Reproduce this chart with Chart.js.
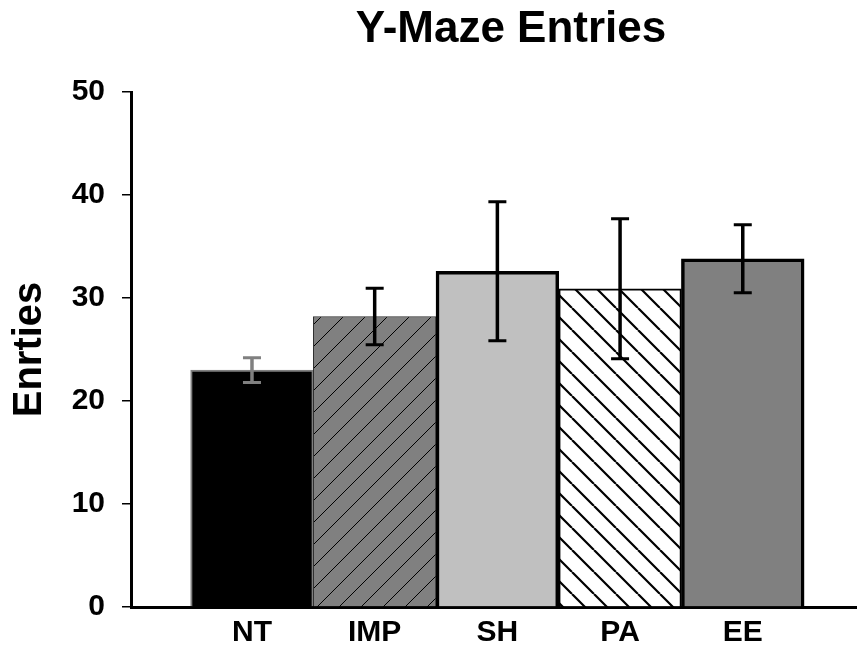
<!DOCTYPE html>
<html>
<head>
<meta charset="utf-8">
<script src="https://cdn.jsdelivr.net/npm/chart.js@4"></script>
<style>
  body { margin: 0; background: #fff; }
  #wrap { position: relative; width: 857px; height: 655px; }
  #title {
    position: absolute; left: 311px; top: 5px; width: 400px;
    text-align: center; font: bold 44px "Liberation Sans", Arial, sans-serif;
    line-height: 44px; color: #000;
  }
</style>
</head>
<body>
<div id="wrap">
  <canvas id="chart" width="857" height="655"></canvas>
  <div id="title">Y-Maze Entries</div>
</div>
<script>
// data
var categories = ["NT", "IMP", "SH", "PA", "EE"];
var entries = [23.0, 28.2, 32.6, 30.9, 33.8];
var errors = [1.2, 2.75, 6.75, 6.8, 3.3];
var yTicks = [0, 10, 20, 30, 40, 50];

var canvas = document.getElementById("chart");
var ctx = canvas.getContext("2d");

// small tile with one diagonal line, repeats into hatching
function hatch(bg, fg, lw, size, dir) {
    var c = document.createElement("canvas");
    c.width = size;
    c.height = size;
    var g = c.getContext("2d");
    g.fillStyle = bg;
    g.fillRect(0, 0, size, size);
    g.strokeStyle = fg;
    g.lineWidth = lw;
    g.beginPath();
    for (var k = -1; k <= 1; k++) {
        var x = k * size;
        if (dir == "/") {
            g.moveTo(x, size);
            g.lineTo(x + size, 0);
        } else {
            g.moveTo(x, 0);
            g.lineTo(x + size, size);
        }
    }
    g.stroke();
    return ctx.createPattern(c, "repeat");
}

var fills = ["#000000", hatch("#808080", "#000000", 1, 22, "/"), "#c0c0c0", hatch("#ffffff", "#000000", 2.2, 22, "\\"), "#808080"];
var borders = ["#808080", "#303030", "#000000", "#000000", "#000000"];
var borderWidths = [2, 1, 3.5, 2, 3.5];
var errorColors = ["#808080", "#000000", "#000000", "#000000", "#000000"];

var font = { family: "'Liberation Sans', Arial, sans-serif", weight: "bold", size: 30 };

// mean +/- error whiskers
var errorBars = {
    id: "errorBars",
    afterDatasetsDraw: function(chart) {
        var c = chart.ctx;
        var y = chart.scales.y;
        var meta = chart.getDatasetMeta(0);
        meta.data.forEach(function(bar, i) {
            var top = y.getPixelForValue(entries[i] + errors[i]);
            var bot = y.getPixelForValue(entries[i] - errors[i]);
            c.save();
            c.strokeStyle = errorColors[i];
            c.lineWidth = 3.5;
            c.beginPath();
            c.moveTo(bar.x, top);
            c.lineTo(bar.x, bot);
            c.stroke();
            c.lineWidth = 3;
            c.beginPath();
            c.moveTo(bar.x - 9, top);
            c.lineTo(bar.x + 9, top);
            c.moveTo(bar.x - 9, bot);
            c.lineTo(bar.x + 9, bot);
            c.stroke();
            c.restore();
        });
    }
};

new Chart(canvas, {
    type: "bar",
    data: {
        datasets: [{
            data: entries.map(function(v, i) { return { x: i, y: v }; }),
            backgroundColor: fills,
            borderColor: borders,
            borderWidth: borderWidths,
            barPercentage: 1,
            categoryPercentage: 1
        }]
    },
    options: {
        responsive: false,
        animation: false,
        layout: { padding: { top: 92, left: 0, right: 0, bottom: 0 } },
        plugins: {
            legend: { display: false },
            tooltip: { enabled: false },
            title: { display: false }
        },
        scales: {
            x: {
                type: "linear",
                offset: false,
                min: -0.986,
                max: 4.931,
                afterBuildTicks: function(scale) {
                    scale.ticks = categories.map(function(c, i) { return { value: i }; });
                },
                afterFit: function(scale) { scale.height = 48; },
                ticks: {
                    callback: function(v) { return categories[v]; },
                    font: font,
                    color: "#000",
                    padding: 8,
                    autoSkip: false,
                    maxRotation: 0
                },
                grid: { display: false, drawTicks: false, offset: false },
                border: { display: true, color: "#000", width: 3 }
            },
            y: {
                min: 0,
                max: 50,
                afterBuildTicks: function(scale) {
                    scale.ticks = yTicks.map(function(v) { return { value: v }; });
                },
                afterFit: function(scale) { scale.width = 131; },
                ticks: { font: font, color: "#000", padding: 17 },
                grid: { drawOnChartArea: false, drawTicks: true, tickLength: 9, color: "#000", lineWidth: 1.5 },
                border: { display: true, color: "#000", width: 3 },
                title: {
                    display: true,
                    text: "Enrties",
                    color: "#000",
                    font: { family: "'Liberation Sans', Arial, sans-serif", weight: "bold", size: 40 },
                    padding: { top: 6, bottom: 0 }
                }
            }
        }
    },
    plugins: [errorBars]
});
</script>
</body>
</html>
